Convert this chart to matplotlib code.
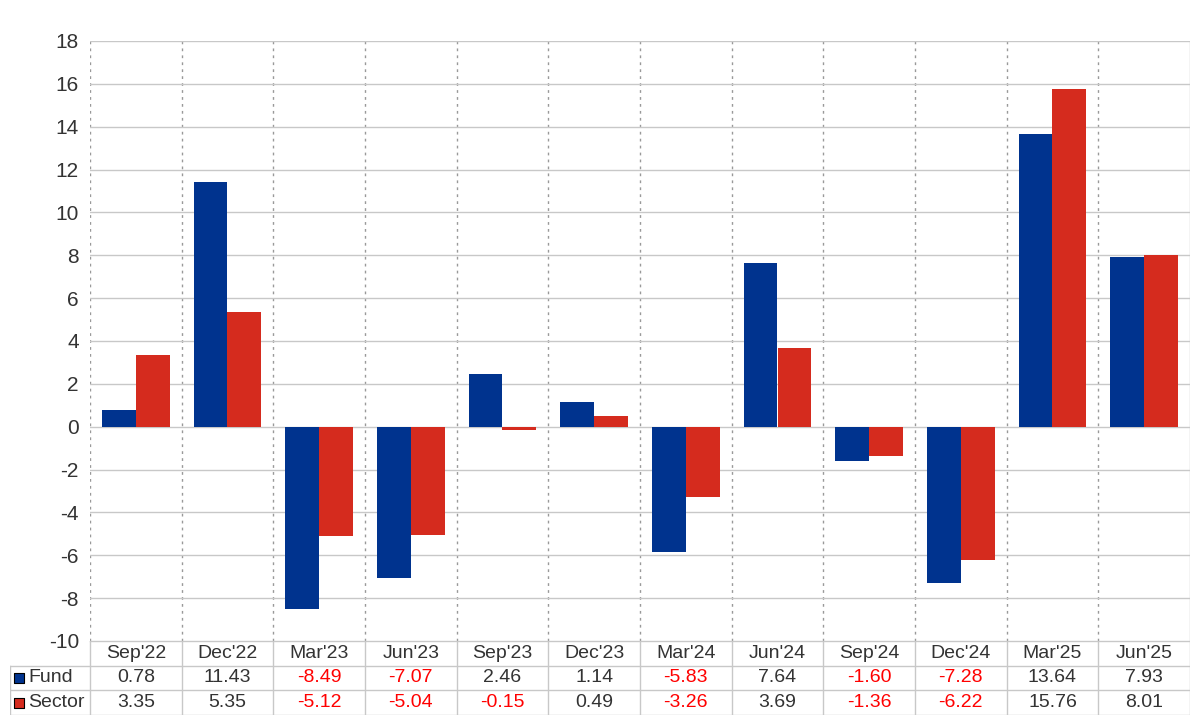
import matplotlib.pyplot as plt
import numpy as np

plt.rcParams['font.family'] = ['Liberation Sans', 'DejaVu Sans']
plt.rcParams['axes.unicode_minus'] = False

# Quarterly returns, fund vs sector
quarters = ["Sep'22", "Dec'22", "Mar'23", "Jun'23", "Sep'23", "Dec'23",
            "Mar'24", "Jun'24", "Sep'24", "Dec'24", "Mar'25", "Jun'25"]
fund = [0.78, 11.43, -8.49, -7.07, 2.46, 1.14, -5.83, 7.64, -1.60, -7.28, 13.64, 7.93]
sector = [3.35, 5.35, -5.12, -5.04, -0.15, 0.49, -3.26, 3.69, -1.36, -6.22, 15.76, 8.01]
series_names = ["Fund", "Sector"]

blue = "#00338e"
red = "#d52b1e"
grid_col = "#c8c8c8"
text_col = "#333333"

fig = plt.figure(figsize=(12, 7.2), dpi=100)
W, H = 1200.0, 720.0

# main chart
left, right, top, bottom = 90, 1190, 41, 641
ax = fig.add_axes([left / W, 1 - bottom / H, (right - left) / W, (bottom - top) / H])
x = np.arange(len(quarters))
bw = 0.37
ax.bar(x - bw / 2, fund, bw, color=blue, zorder=3)
ax.bar(x + bw / 2, sector, bw, color=red, zorder=3)
ax.set_xlim(-0.5, len(quarters) - 0.5)
ax.set_ylim(-10, 18)
ax.set_yticks(range(-10, 19, 2))
ax.tick_params(axis='y', length=0, labelsize=15, labelcolor=text_col, pad=8)
ax.set_xticks([])
ax.grid(axis='y', color=grid_col, linewidth=1, zorder=0)
for b in np.arange(-0.5, len(quarters) - 0.5, 1):
    ax.axvline(b, color="#999999", linestyle=(0, (2, 3)), linewidth=1, zorder=1)
for s in ax.spines.values():
    s.set_visible(False)
ax.axvline(len(quarters) - 0.5, color=grid_col, linewidth=1, zorder=1)

# data table below the chart
tleft, tbottom = 10, 715
unit = (right - left) / len(quarters)
xl = -0.5 - (left - tleft) / unit
tax = fig.add_axes([tleft / W, 1 - tbottom / H, (right - tleft) / W, (tbottom - bottom) / H])
tax.set_xlim(xl, len(quarters) - 0.5)
tax.set_ylim(3, 0)
tax.axis('off')

lw = 1
# horizontal lines
tax.plot([-0.5, len(quarters) - 0.5], [0, 0], color=grid_col, lw=lw)
for yy in [1, 2, 3]:
    tax.plot([xl, len(quarters) - 0.5], [yy, yy], color=grid_col, lw=lw)
# vertical lines
tax.plot([xl, xl], [1, 3], color=grid_col, lw=lw)
for b in np.arange(-0.5, len(quarters) + 0.5, 1):
    tax.plot([b, b], [0, 3], color=grid_col, lw=lw)

fs = 14
for i, q in enumerate(quarters):
    tax.text(i, 0.5, q, ha='center', va='center', fontsize=fs, color=text_col)
for r, (name, vals, col) in enumerate(zip(series_names, [fund, sector], [blue, red])):
    yy = r + 1.5
    tax.scatter([xl + 0.1], [yy], marker='s', s=50, color=col, edgecolor='black', linewidth=0.8, clip_on=False)
    tax.text(xl + 0.2, yy, name, ha='left', va='center', fontsize=fs, color=text_col)
    for i, v in enumerate(vals):
        tax.text(i, yy, f"{v:.2f}", ha='center', va='center', fontsize=fs,
                 color='#ff0000' if v < 0 else text_col)

fig.savefig("out.png", dpi=100)
